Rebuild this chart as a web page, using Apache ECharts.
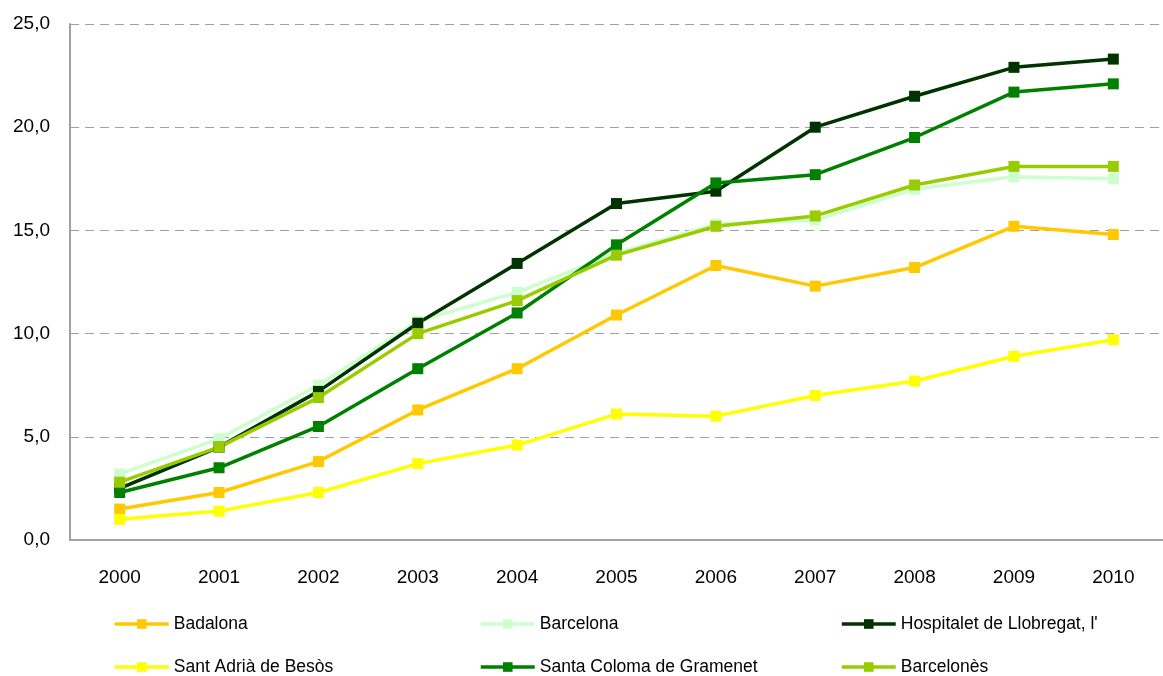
<!DOCTYPE html>
<html>
<head>
<meta charset="utf-8">
<script src="https://cdn.jsdelivr.net/npm/echarts@6/dist/echarts.min.js"></script>
<style>html,body{margin:0;padding:0;background:#fff}#c{width:1163px;height:676px}</style>
</head>
<body>
<div id="c"></div>
<script>
const years = ['2000','2001','2002','2003','2004','2005','2006','2007','2008','2009','2010'];
const badalona    = [1.5, 2.3, 3.8, 6.3, 8.3, 10.9, 13.3, 12.3, 13.2, 15.2, 14.8];
const barcelona   = [3.2, 4.9, 7.5, 10.6, 12.0, 13.9, 15.3, 15.5, 17.0, 17.6, 17.5];
const hospitalet  = [2.5, 4.5, 7.2, 10.5, 13.4, 16.3, 16.9, 20.0, 21.5, 22.9, 23.3];
const santAdria   = [1.0, 1.4, 2.3, 3.7, 4.6, 6.1, 6.0, 7.0, 7.7, 8.9, 9.7];
const santaColoma = [2.3, 3.5, 5.5, 8.3, 11.0, 14.3, 17.3, 17.7, 19.5, 21.7, 22.1];
const barcelones  = [2.8, 4.5, 6.9, 10.0, 11.6, 13.8, 15.2, 15.7, 17.2, 18.1, 18.1];
const yTicks = [0, 5, 10, 15, 20, 25];

const names = ['Badalona','Barcelona',"Hospitalet de Llobregat, l'",'Sant Adrià de Besòs','Santa Coloma de Gramenet','Barcelonès'];
const values = [badalona, barcelona, hospitalet, santAdria, santaColoma, barcelones];
const colors = ['#FFC800','#CCFFCC','#003300','#FFFF00','#008000','#99CC00'];
const FONT = '"Liberation Sans", Arial, sans-serif';

const series = names.map((n, i) => ({
  name: n, type: 'line', data: values[i],
  symbol: 'rect', symbolSize: 11,
  lineStyle: { width: 3.5, color: colors[i] },
  itemStyle: { color: colors[i] },
  emphasis: { disabled: true },
  animation: false
}));

const legendPos = [
  { left: 113, top: 615 }, { left: 479, top: 615 }, { left: 840, top: 615 },
  { left: 113, top: 658 }, { left: 479, top: 658 }, { left: 840, top: 658 }
];
const legends = names.map((n, i) => ({
  data: [n], left: legendPos[i].left, top: legendPos[i].top,
  itemWidth: 54, itemHeight: 12, itemGap: 5, padding: 0,
  lineStyle: { width: 3.5 },
  textStyle: { fontFamily: FONT, fontSize: 17.5, color: '#000', padding: [0,0,0,0] },
  selectedMode: false
}));

const chart = echarts.init(document.getElementById('c'), null, { renderer: 'canvas' });
chart.setOption({
  animation: false,
  backgroundColor: '#fff',
  grid: { left: 70, right: -6, top: 24, bottom: 136, containLabel: false },
  legend: legends,
  xAxis: {
    type: 'category', data: years, boundaryGap: true,
    axisLine: { lineStyle: { color: '#A0A0A0', width: 2 } },
    axisTick: { show: false },
    axisLabel: { fontFamily: FONT, fontSize: 19, color: '#000', margin: 28 }
  },
  yAxis: {
    type: 'value', min: yTicks[0], max: yTicks[yTicks.length-1], interval: 5,
    axisLine: { show: true, lineStyle: { color: '#A0A0A0', width: 2 } },
    axisTick: { show: false },
    splitLine: { lineStyle: { color: '#A0A0A0', type: [9, 6], width: 1 } },
    axisLabel: { fontFamily: FONT, fontSize: 19, color: '#000', margin: 20,
      formatter: v => v.toFixed(1).replace('.', ',') }
  },
  series: series
});
</script>
</body>
</html>
